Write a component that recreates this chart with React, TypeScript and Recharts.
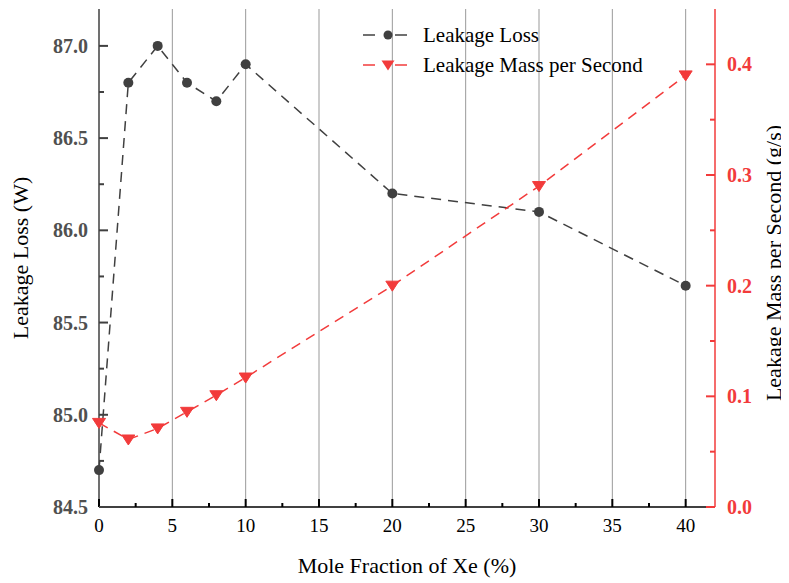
import React from 'react';
import { ComposedChart, Line, XAxis, YAxis, ReferenceLine, Label } from 'recharts';

const moleFraction = [0, 2, 4, 6, 8, 10, 20, 30, 40];
const leakageLoss = [84.7, 86.8, 87.0, 86.8, 86.7, 86.9, 86.2, 86.1, 85.7];
const leakageMass = [0.076, 0.061, 0.071, 0.086, 0.101, 0.117, 0.2, 0.29, 0.39];

const xTicks = [0, 2.5, 5, 7.5, 10, 12.5, 15, 17.5, 20, 22.5, 25, 27.5, 30, 32.5, 35, 37.5, 40];
const xGrid = [5, 10, 15, 20, 25, 30, 35, 40];
const leftTicks = [84.5, 84.75, 85, 85.25, 85.5, 85.75, 86, 86.25, 86.5, 86.75, 87];
const rightTicks = [0, 0.05, 0.1, 0.15, 0.2, 0.25, 0.3, 0.35, 0.4];

const data = moleFraction.map((x, i) => ({ x, loss: leakageLoss[i], mass: leakageMass[i] }));

const FONT = 'Liberation Serif';
const RED = '#f23b3b';
const DARK = '#404040';

const CHART_W = 781;
const CHART_H = 575;
const LEFT_W = 91;
const RIGHT_W = 74;
const BOTTOM_H = 76;
const TOP_M = 1;
const LEFT_AXIS_X = LEFT_W;
const RIGHT_AXIS_X = CHART_W - RIGHT_W;
const BOTTOM_AXIS_Y = CHART_H - BOTTOM_H;

const isMajor = (v: number, step: number) => Math.abs(v / step - Math.round(v / step)) < 1e-6;

function XTick(props: any) {
  const { x, payload } = props;
  const major = isMajor(payload.value, 5);
  const ay = BOTTOM_AXIS_Y;
  return (
    <g>
      <path d={`M${x},${ay} L${x},${ay - (major ? 8 : 4)}`} stroke="#000" strokeWidth={2} fill="none" />
      {major ? (
        <text x={x} y={ay + 25} textAnchor="middle" style={{ fontFamily: FONT }} fontSize={19} fill="#000">
          {String(payload.value)}
        </text>
      ) : null}
    </g>
  );
}

function LeftTick(props: any) {
  const { y, payload } = props;
  const major = isMajor(payload.value, 0.5);
  const ax = LEFT_AXIS_X;
  return (
    <g>
      <path d={`M${ax},${y} L${ax + (major ? 9 : 5)},${y}`} stroke={DARK} strokeWidth={2} fill="none" />
      {major ? (
        <text x={ax - 11} y={y} dy="0.35em" textAnchor="end" style={{ fontFamily: FONT }} fontSize={20} fontWeight="bold" fill="#505050">
          {payload.value.toFixed(1)}
        </text>
      ) : null}
    </g>
  );
}

function RightTick(props: any) {
  const { y, payload } = props;
  const major = isMajor(payload.value, 0.1);
  const ax = RIGHT_AXIS_X;
  return (
    <g>
      <path d={`M${ax},${y} L${ax - (major ? 9 : 5)},${y}`} stroke={RED} strokeWidth={2} fill="none" />
      {major ? (
        <text x={ax + 12} y={y} dy="0.35em" textAnchor="start" style={{ fontFamily: FONT }} fontSize={20} fontWeight="bold" fill={RED}>
          {payload.value.toFixed(1)}
        </text>
      ) : null}
    </g>
  );
}

function Triangle(props: any) {
  const { cx, cy } = props;
  if (cx == null || cy == null) return null;
  return (
    <polygon
      points={`${cx - 6.5},${cy - 4.5} ${cx + 6.5},${cy - 4.5} ${cx},${cy + 5.5}`}
      fill={RED}
      stroke={RED}
    />
  );
}

function LegendOverlay() {
  return (
    <div style={{ position: 'absolute', left: 355, top: 12, fontFamily: FONT, fontSize: 21, color: '#000' }}>
      <div style={{ display: 'flex', alignItems: 'center', height: 30 }}>
        <svg width={60} height={20}>
          <line x1={0} x2={12} y1={10} y2={10} stroke={DARK} strokeWidth={1.5} />
          <line x1={32} x2={44} y1={10} y2={10} stroke={DARK} strokeWidth={1.5} />
          <circle cx={25} cy={10} r={4.5} fill={DARK} />
        </svg>
        <span style={{ lineHeight: '30px', whiteSpace: 'nowrap' }}>Leakage Loss</span>
      </div>
      <div style={{ display: 'flex', alignItems: 'center', height: 30 }}>
        <svg width={60} height={20}>
          <line x1={0} x2={12} y1={10} y2={10} stroke={RED} strokeWidth={1.5} />
          <line x1={32} x2={44} y1={10} y2={10} stroke={RED} strokeWidth={1.5} />
          <polygon points="18.5,5.5 31.5,5.5 25,15.5" fill={RED} />
        </svg>
        <span style={{ lineHeight: '30px', whiteSpace: 'nowrap' }}>Leakage Mass per Second</span>
      </div>
    </div>
  );
}

export default function App() {
  return (
    <div style={{ position: 'relative', width: CHART_W, height: CHART_H, fontFamily: FONT }}>
      <ComposedChart width={CHART_W} height={CHART_H} data={data} margin={{ top: TOP_M, right: 0, bottom: 0, left: 0 }}>
        <XAxis
          xAxisId="top"
          orientation="top"
          dataKey="x"
          type="number"
          domain={[0, 42]}
          height={0}
          tick={false}
          tickLine={false}
          axisLine={{ stroke: '#555', strokeWidth: 1.5 }}
        />
        <XAxis
          dataKey="x"
          type="number"
          domain={[0, 42]}
          ticks={xTicks}
          interval={0}
          height={BOTTOM_H}
          tickSize={0}
          tickLine={false}
          tick={XTick}
          axisLine={{ stroke: '#000', strokeWidth: 1.5 }}
        >
          <Label
            content={() => (
              <text x={399} y={565} textAnchor="middle" style={{ fontFamily: FONT }} fontSize={22} fill="#000">
                Mole Fraction of Xe (%)
              </text>
            )}
          />
        </XAxis>
        <YAxis
          yAxisId="left"
          orientation="left"
          type="number"
          domain={[84.5, 87.2]}
          ticks={leftTicks}
          interval={0}
          width={LEFT_W}
          tickSize={0}
          tickLine={false}
          tick={LeftTick}
          axisLine={{ stroke: DARK, strokeWidth: 1.5 }}
          allowDataOverflow
        >
          <Label
            content={() => (
              <text
                x={12}
                y={250}
                transform="rotate(-90 12 250)"
                textAnchor="middle"
                dominantBaseline="central"
                style={{ fontFamily: FONT }}
                fontSize={22}
                fill="#000"
              >
                Leakage Loss (W)
              </text>
            )}
          />
        </YAxis>
        <YAxis
          yAxisId="right"
          orientation="right"
          type="number"
          domain={[0, 0.45]}
          ticks={rightTicks}
          interval={0}
          width={RIGHT_W}
          tickSize={0}
          tickLine={false}
          tick={RightTick}
          axisLine={{ stroke: RED, strokeWidth: 1.5 }}
          allowDataOverflow
        >
          <Label
            content={() => (
              <text
                x={765}
                y={255}
                transform="rotate(-90 765 255)"
                textAnchor="middle"
                dominantBaseline="central"
                style={{ fontFamily: FONT }}
                fontSize={22}
                fill="#000"
              >
                Leakage Mass per Second (g/s)
              </text>
            )}
          />
        </YAxis>
        {xGrid.map((g) => (
          <ReferenceLine key={g} x={g} yAxisId="left" stroke="#999" strokeWidth={1} />
        ))}
        <Line
          yAxisId="left"
          dataKey="loss"
          type="linear"
          stroke={DARK}
          strokeWidth={1.5}
          strokeDasharray="10 7"
          dot={{ r: 5, fill: DARK, stroke: DARK, strokeWidth: 0 }}
          isAnimationActive={false}
        />
        <Line
          yAxisId="right"
          dataKey="mass"
          type="linear"
          stroke={RED}
          strokeWidth={1.5}
          strokeDasharray="10 7"
          dot={Triangle}
          isAnimationActive={false}
        />
      </ComposedChart>
      <LegendOverlay />
    </div>
  );
}
